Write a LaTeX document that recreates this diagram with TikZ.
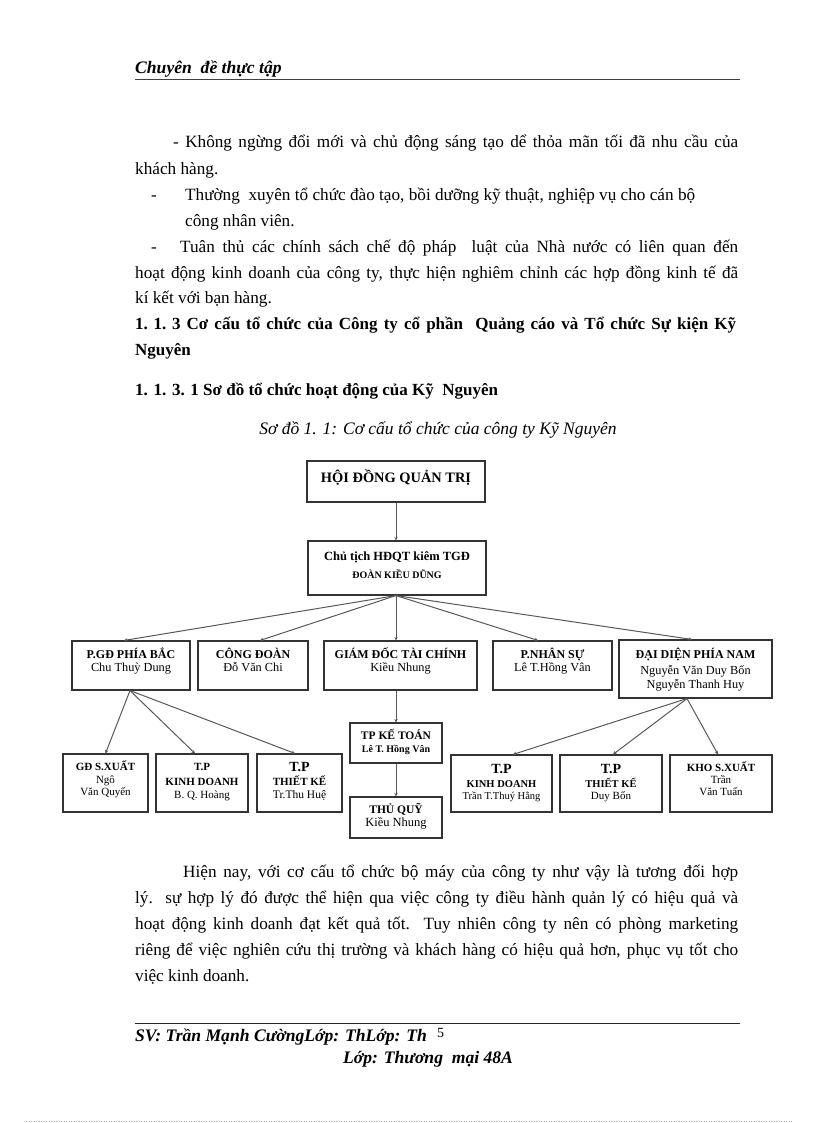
\documentclass[tikz,border=0pt]{standalone}
\usepackage{fontspec}
\setmainfont{Liberation Serif}
\usetikzlibrary{arrows.meta}
\newcommand\bodyf{\fontsize{17.2}{20}\selectfont}
\newcommand\headf{\fontsize{17}{20}\selectfont\bfseries}
\newcommand\hdf{\fontsize{17.6}{20}\selectfont\bfseries\itshape}
\newcommand\capf{\fontsize{17.5}{20}\selectfont\itshape}
\newcommand\fsz[1]{\fontsize{#1}{#1}\selectfont}
\begin{document}
\begin{tikzpicture}[x=1pt,y=-1pt,
  tx/.style={inner sep=0pt, anchor=base west, font=\bodyf},
  bt/.style={inner sep=0pt, anchor=base},
  orgbox/.style={draw=black!80, line width=1.1pt, inner sep=0pt, fill=white},
  link/.style={draw=black!65, line width=1pt, -{Stealth[length=3.5pt,width=3.5pt]}}
]
\useasboundingbox (0,0) rectangle (816,1123);
\fill[white] (0,0) rectangle (816,1123);

% header
\node[tx, font=\hdf] (hdr) at (135,74) {Chuyên\ \ đề thực tập};
\coordinate (hl1) at (135,79.5);
\coordinate (hl2) at (740,79.5);
\draw[black!75, line width=0.9pt] (hl1) -- (hl2);

% paragraph 1
\node[tx] (l1) at (173,148) {\makebox[565pt][s]{- Không ngừng đổi mới và chủ động sáng tạo dể thỏa mãn tối đã nhu cầu của}};
\node[tx] (l2) at (135,175) {khách hàng.};
\node[tx] (l3d) at (151,201) {-};
\node[tx] (l3) at (185,201) {Thường\ \ xuyên tổ chức đào tạo, bồi dưỡng kỹ thuật, nghiệp vụ cho cán bộ};
\node[tx] (l4) at (185,226) {công nhân viên.};
\node[tx] (l5d) at (151,252) {-};
\node[tx] (l5) at (180,252) {\makebox[558pt][s]{Tuân thủ các chính sách chế độ pháp\ \ luật của Nhà nước có liên quan đến}};
\node[tx] (l6) at (135,278) {\makebox[603pt][s]{hoạt động kinh doanh của công ty, thực hiện nghiêm chỉnh các hợp đồng kinh tế đã}};
\node[tx] (l7) at (135,303) {kí kết với bạn hàng.};
\node[tx, font=\headf] (h1) at (135,329) {\makebox[601pt][s]{\mbox{1. 1. 3} Cơ cấu tổ chức của Công ty cổ phần\ \ Quảng cáo và Tổ chức Sự kiện Kỹ}};
\node[tx, font=\headf] (h1b) at (135,355) {Nguyên};
\node[tx, font=\headf] (h2) at (135,395) {1. 1. 3. 1 Sơ đồ tổ chức hoạt động của Kỹ\ \ Nguyên};
\node[inner sep=0pt, anchor=base, font=\capf] (cap) at (438,434) {Sơ đồ 1. 1: Cơ cấu tổ chức của công ty Kỹ Nguyên};

% org chart boxes
\node[orgbox, minimum width=178pt, minimum height=41pt] (hdqt) at (396,481.5) {};
\node[orgbox, minimum width=178pt, minimum height=54pt] (ct) at (397,568) {};
\node[orgbox, minimum width=118pt, minimum height=49pt] (pgd) at (131,665.5) {};
\node[orgbox, minimum width=110pt, minimum height=49pt] (cd) at (253,665.5) {};
\node[orgbox, minimum width=153pt, minimum height=49pt] (gdtc) at (400.5,665.5) {};
\node[orgbox, minimum width=119pt, minimum height=49pt] (pns) at (552.5,665.5) {};
\node[orgbox, minimum width=153pt, minimum height=58pt] (ddn) at (695.5,669) {};
\node[orgbox, minimum width=85pt, minimum height=58pt] (gdsx) at (105.5,783) {};
\node[orgbox, minimum width=92pt, minimum height=58pt] (tpkd1) at (202,783) {};
\node[orgbox, minimum width=85pt, minimum height=58pt] (tptk1) at (299.5,783) {};
\node[orgbox, minimum width=92pt, minimum height=40pt] (tpkt) at (396,743) {};
\node[orgbox, minimum width=92pt, minimum height=41pt] (tq) at (396,817.5) {};
\node[orgbox, minimum width=101pt, minimum height=57pt] (tpkd2) at (501.5,783.5) {};
\node[orgbox, minimum width=102pt, minimum height=57pt] (tptk2) at (611,783.5) {};
\node[orgbox, minimum width=102pt, minimum height=57pt] (kho) at (721,783.5) {};

% connectors
\draw[link] (hdqt.south) -- (ct.north -| hdqt.south);
\draw[link] ([xshift=-1pt]ct.south) -- ([xshift=-7pt]pgd.north);
\draw[link] ([xshift=-1pt]ct.south) -- ([xshift=7pt]cd.north);
\draw[link] ([xshift=-1pt]ct.south) -- ([xshift=-4.5pt]gdtc.north);
\draw[link] ([xshift=-1pt]ct.south) -- ([xshift=-14.5pt]pns.north);
\draw[link] ([xshift=-1pt]ct.south) -- ([xshift=-3.5pt]ddn.north);
\draw[link] ([xshift=-4.5pt]gdtc.south) -- (tpkt.north);
\draw[link] (tpkt.south) -- (tq.north);
\draw[link] ([xshift=-1pt]pgd.south) -- (gdsx.north);
\draw[link] ([xshift=-1pt]pgd.south) -- ([xshift=-7pt]tpkd1.north);
\draw[link] ([xshift=-1pt]pgd.south) -- ([xshift=-4.5pt]tptk1.north);
\draw[link] ([xshift=-8.5pt]ddn.south) -- ([xshift=11.5pt]tpkd2.north);
\draw[link] ([xshift=-8.5pt]ddn.south) -- ([xshift=2pt]tptk2.north);
\draw[link] ([xshift=-8.5pt]ddn.south) -- ([xshift=-3pt]kho.north);

% box texts
\node[bt, font=\fsz{14.4}\bfseries] (t-hdqt) at (396,482) {HỘI ĐỒNG QUẢN TRỊ};
\node[bt, font=\fsz{12.5}\bfseries] (t-ct1) at (397,560) {Chủ tịch HĐQT kiêm TGĐ};
\node[bt, font=\fsz{10}\bfseries] (t-ct2) at (397,578) {ĐOÀN KIỀU DŨNG};

\node[bt, font=\fsz{12}\bfseries] (t-pgd1) at (131,658) {P.GĐ PHÍA BẮC};
\node[bt, font=\fsz{12.3}] (t-pgd2) at (131,671) {Chu Thuỳ Dung};
\node[bt, font=\fsz{12}\bfseries] (t-cd1) at (253,658) {CÔNG ĐOÀN};
\node[bt, font=\fsz{12.3}] (t-cd2) at (253,671) {Đỗ Văn Chi};
\node[bt, font=\fsz{12}\bfseries] (t-gd1) at (400.5,658) {GIÁM ĐỐC TÀI CHÍNH};
\node[bt, font=\fsz{12.3}] (t-gd2) at (400.5,671) {Kiều Nhung};
\node[bt, font=\fsz{12}\bfseries] (t-ns1) at (552.5,658) {P.NHÂN SỰ};
\node[bt, font=\fsz{12.3}] (t-ns2) at (552.5,671) {Lê T.Hồng Vân};
\node[bt, font=\fsz{12}\bfseries] (t-dd1) at (695.5,658) {ĐẠI DIỆN PHÍA NAM};
\node[bt, font=\fsz{12.3}] (t-dd2) at (695.5,674) {Nguyễn Văn Duy Bốn};
\node[bt, font=\fsz{12.3}] (t-dd3) at (695.5,688) {Nguyễn Thanh Huy};

\node[bt, font=\fsz{11}\bfseries] (t-sx1) at (105.5,770) {GĐ S.XUẤT};
\node[bt, font=\fsz{11}] (t-sx2) at (105.5,783) {Ngô};
\node[bt, font=\fsz{11}] (t-sx3) at (105.5,795) {Văn Quyến};
\node[bt, font=\fsz{11}\bfseries] (t-kd11) at (202,770) {T.P};
\node[bt, font=\fsz{11}\bfseries] (t-kd12) at (202,785) {KINH DOANH};
\node[bt, font=\fsz{11}] (t-kd13) at (202,798) {B. Q. Hoàng};
\node[bt, font=\fsz{14}\bfseries] (t-tk11) at (299.5,771) {T.P};
\node[bt, font=\fsz{11}\bfseries] (t-tk12) at (299.5,785) {THIẾT KẾ};
\node[bt, font=\fsz{11.5}] (t-tk13) at (299.5,798) {Tr.Thu Huệ};

\node[bt, font=\fsz{11.5}\bfseries] (t-kt1) at (396,739) {TP KẾ TOÁN};
\node[bt, font=\fsz{10}\bfseries] (t-kt2) at (396,752) {Lê T. Hồng Vân};
\node[bt, font=\fsz{11.5}\bfseries] (t-tq1) at (396,813) {THỦ QUỸ};
\node[bt, font=\fsz{12.5}] (t-tq2) at (396,826) {Kiều Nhung};

\node[bt, font=\fsz{14}\bfseries] (t-kd21) at (501.5,773) {T.P};
\node[bt, font=\fsz{10.5}\bfseries] (t-kd22) at (501.5,787) {KINH DOANH};
\node[bt, font=\fsz{10.5}] (t-kd23) at (501.5,799) {Trần T.Thuý Hằng};
\node[bt, font=\fsz{14}\bfseries] (t-tk21) at (611,773) {T.P};
\node[bt, font=\fsz{10.5}\bfseries] (t-tk22) at (611,787) {THIẾT KẾ};
\node[bt, font=\fsz{11}] (t-tk23) at (611,799) {Duy Bốn};
\node[bt, font=\fsz{11}\bfseries] (t-kh1) at (721,771) {KHO S.XUẤT};
\node[bt, font=\fsz{11}] (t-kh2) at (721,783) {Trần};
\node[bt, font=\fsz{11}] (t-kh3) at (721,795) {Văn Tuấn};

% closing paragraph
\node[tx] (q1) at (183,877) {\makebox[555pt][s]{Hiện nay,\ với\ cơ cấu tổ chức bộ máy của công ty như vậy\ là tương đối hợp}};
\node[tx] (q2) at (135,903) {\makebox[603pt][s]{lý. sự hợp\ lý đó được thể hiện qua việc công ty điều hành\ quản lý có hiệu quả và}};
\node[tx] (q3) at (135,929) {\makebox[603pt][s]{hoạt động kinh doanh đạt kết quả tốt. Tuy\ nhiên công ty nên có phòng marketing}};
\node[tx] (q4) at (135,955) {\makebox[603pt][s]{riêng để việc nghiên cứu thị trường và khách hàng có hiệu quả hơn, phục vụ tốt cho}};
\node[tx] (q5) at (135,981) {việc kinh doanh.};

% footer
\coordinate (fl1) at (135,1023.5);
\coordinate (fl2) at (740,1023.5);
\draw[black!85, line width=1.5pt] (fl1) -- (fl2);
\node[tx, font=\hdf] (ft1) at (135,1041) {SV: Trần Mạnh CườngLớp: ThLớp: Th};
\node[tx, font=\fsz{14}] (ft5) at (437,1037) {5};
\node[tx, font=\hdf] (ft2) at (343,1063) {Lớp: Thương\ \ mại 48A};

\coordinate (bl1) at (26,1121);
\coordinate (bl2) at (792,1121);
\draw[black!30, line width=0.5pt, dotted] (bl1) -- (bl2);
\end{tikzpicture}
\end{document}
